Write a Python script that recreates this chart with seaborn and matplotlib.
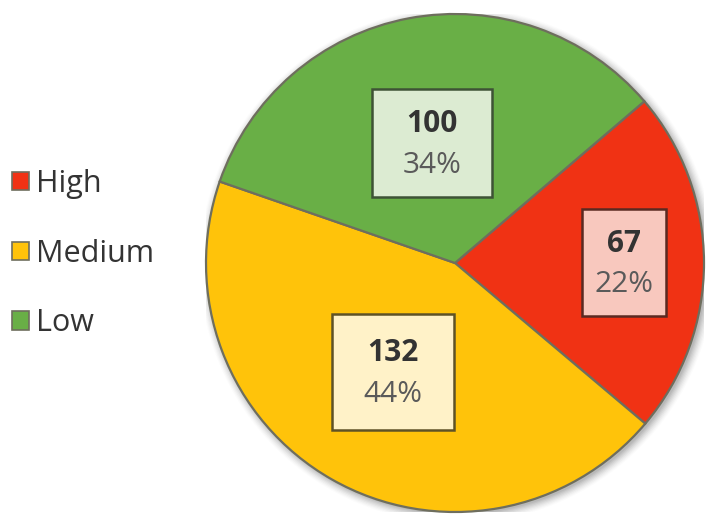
import numpy as np
import matplotlib
matplotlib.use("Agg")
import matplotlib.pyplot as plt
from matplotlib.patches import Rectangle, Circle, Patch
import seaborn as sns

# Data
categories = ["High", "Medium", "Low"]
counts = [67, 132, 100]
percent_labels = ["22%", "44%", "34%"]
colors = ["#F03214", "#FFC30A", "#69AF46"]
box_fills = ["#F8C8BE", "#FFF2C8", "#DCEBD2"]
box_edges = ["#5A2A22", "#5E5226", "#3E5236"]

sns.set_theme(style="white")
plt.rcParams["font.family"] = ["Open Sans", "DejaVu Sans"]

W, H = 708, 520
fig = plt.figure(figsize=(W / 100, H / 100), dpi=100)
fig.patch.set_facecolor("white")

cx, cy, r = 455, 263, 249
ax = fig.add_axes([(cx - r) / W, (H - cy - r) / H, 2 * r / W, 2 * r / H])

# soft halo around the pie
for k, a in zip(np.linspace(1.035, 1.0, 8), np.linspace(0.02, 0.10, 8)):
    ax.add_patch(Circle((0.01, -0.01), k, color="#555555", alpha=a, lw=0, zorder=0))

wedges, _ = ax.pie(counts, colors=colors, startangle=40.5, counterclock=False,
                   wedgeprops=dict(edgecolor="#6E6E5E", linewidth=1.6))
for w in wedges:
    w.set_zorder(2)

# label boxes: (distance from centre, box width px, box height px)
box_geom = [(0.68, 84, 107), (0.505, 122, 116), (0.49, 120, 108)]
px = 1.0 / r
for w, n, pct, fc, ec, (dist, bw, bh) in zip(wedges, counts, percent_labels,
                                               box_fills, box_edges, box_geom):
    ang = np.deg2rad((w.theta1 + w.theta2) / 2)
    x, y = dist * np.cos(ang), dist * np.sin(ang)
    ax.add_patch(Rectangle((x - bw * px / 2, y - bh * px / 2), bw * px, bh * px,
                           facecolor=fc, edgecolor=ec, linewidth=1.8, zorder=3))
    ax.text(x, y + 19 * px, str(n), ha="center", va="center", fontsize=21.5,
            fontweight="bold", color="#333333", zorder=4)
    ax.text(x, y - 22 * px, pct, ha="center", va="center", fontsize=21.5,
            color="#5A5A5A", zorder=4)

ax.set_xlim(-1, 1)
ax.set_ylim(-1, 1)
ax.set_aspect("equal")
ax.axis("off")

handles = [Patch(facecolor=c, edgecolor="#6E6E5E", linewidth=1.2) for c in colors]
fig.legend(handles, categories, loc="upper left",
           bbox_to_anchor=(12 / W, 1 - 169 / H), frameon=False, fontsize=22,
           labelspacing=1.3, handlelength=0.55, handleheight=0.55,
           handletextpad=0.25, labelcolor="#333333", borderaxespad=0,
           borderpad=0)

fig.savefig("out.png", dpi=100, facecolor="white")
